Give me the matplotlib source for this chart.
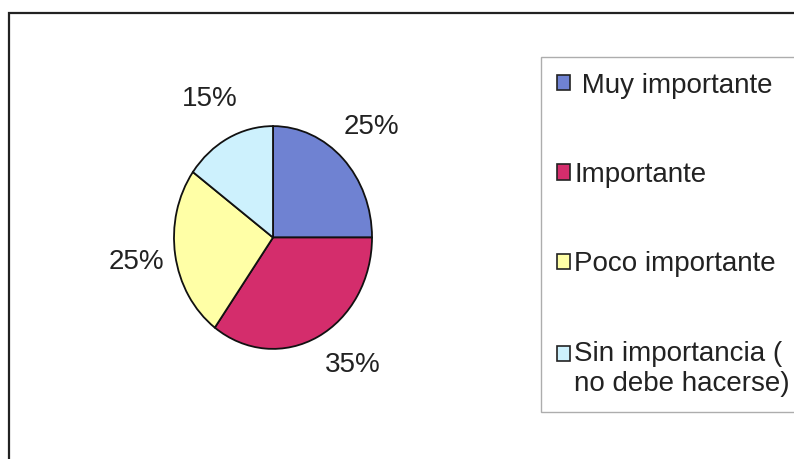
import numpy as np
import matplotlib
matplotlib.use("Agg")
import matplotlib.pyplot as plt
from matplotlib.patches import Rectangle, Patch

# data
categories = ["Muy importante", "Importante", "Poco importante",
              "Sin importancia (\nno debe hacerse)"]
legend_labels = [" Muy importante", "Importante", "Poco importante",
                 "Sin importancia (\nno debe hacerse)"]
values = [25, 35, 25, 15]
colors = ["#6F82D2", "#D42D6C", "#FFFFA6", "#CDF1FD"]

plt.rcParams["font.family"] = ["Liberation Sans", "DejaVu Sans"]

W, H = 794, 459
fig = plt.figure(figsize=(W / 100, H / 100), dpi=100)

# outer chart border (cut off at right and bottom like the scan)
fig.patches.append(Rectangle((9 / W, -0.1), 1.0, 1 - 13 / H + 0.1,
                             transform=fig.transFigure, fill=False,
                             edgecolor="#222222", linewidth=1.6))

ax = fig.add_axes([173 / W, 1 - 350 / H, 200 / W, 225 / H])
wedges, texts, autotexts = ax.pie(values, colors=colors, startangle=90,
                                  counterclock=False, radius=1,
                                  autopct="%d%%", pctdistance=1.38,
                                  wedgeprops=dict(edgecolor="#111111",
                                                  linewidth=1.3))
ax.set_xlim(-1.01, 1.01)
ax.set_ylim(-1.01, 1.01)
ax.set_aspect("auto")

# Excel style placement: the big slice label sits a bit higher
shift = [0, -8, 0, 0]
for w, t, s in zip(wedges, autotexts, shift):
    ang = np.deg2rad((w.theta1 + w.theta2) / 2 - s)
    t.set_position((1.40 * np.cos(ang), 1.40 * np.sin(ang)))
    t.set_fontsize(20)
    t.set_color("#222222")
    t.set_ha("center")
    t.set_va("center")

handles = [Patch(facecolor=c, edgecolor="#222222", linewidth=1.2) for c in colors]
leg = fig.legend(handles, legend_labels, loc="upper left",
                 bbox_to_anchor=(541 / W, 1 - 57 / H), fontsize=20,
                 frameon=True, fancybox=False, labelspacing=2.28,
                 handlelength=0.48, handleheight=0.48, handletextpad=0.15,
                 borderpad=0.56, borderaxespad=0)
leg.get_frame().set_edgecolor("#999999")
leg.get_frame().set_linewidth(1.0)
for t in leg.get_texts():
    t.set_color("#222222")

# marker of the two-line entry goes next to its first line
last = leg.legend_handles[-1]
last.set_y(last.get_y() + 11)

fig.savefig("out.png", dpi=100)
